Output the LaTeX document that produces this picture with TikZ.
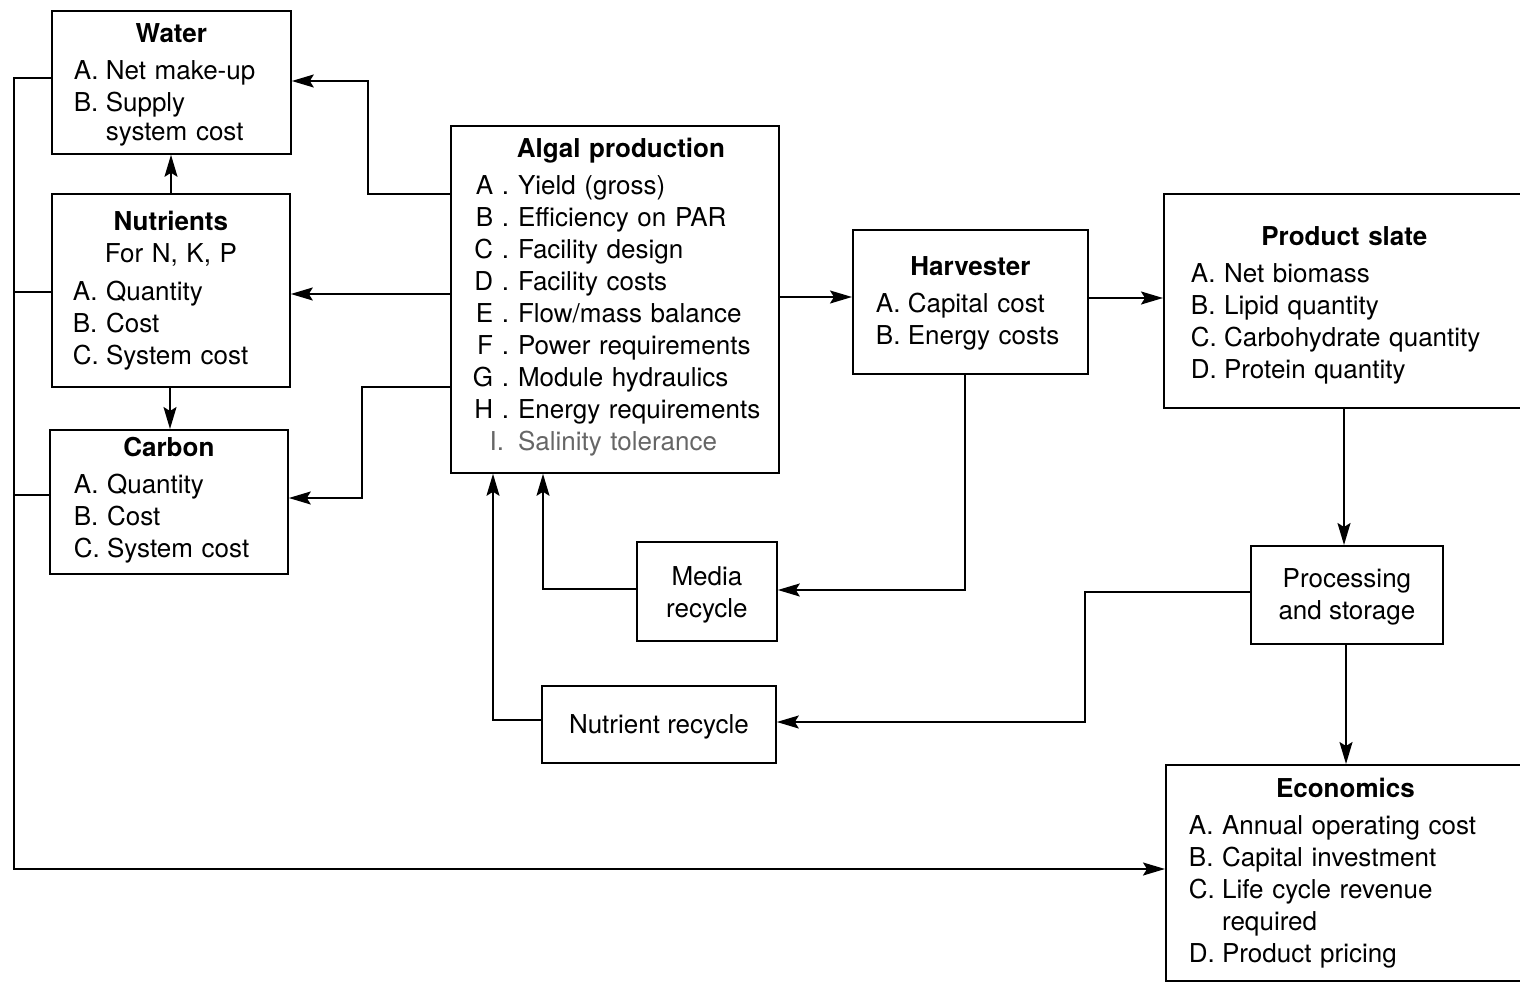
\documentclass[tikz,border=0pt]{standalone}
\usepackage{fontspec}
\setmainfont{TeX Gyre Heros}
\usetikzlibrary{arrows.meta}
% lettered list with hanging continuation lines
\newcommand{\boxlist}[1]{\begin{tabular}[t]{@{}l@{\hspace{7.2pt}}l@{}}#1\end{tabular}}
% centred bold heading; the optional strut height sets the top margin
\newcommand{\boxtitle}[2][18pt]{\makebox[\hsize]{\rule{0pt}{#1}\bfseries #2}}
\begin{document}
\begin{tikzpicture}[x=1pt, y=-1pt,
  every node/.style={font=\fontsize{26}{32}\selectfont},
  box/.style={draw, line width=1.8pt, anchor=north west, inner ysep=0pt},
  panel/.style={box, align=left},
  plain/.style={box, align=center, inner sep=0pt},
  wire/.style={line width=1.8pt},
  link/.style={wire, -{Stealth[length=22pt, width=13pt, inset=4pt]}}]
\useasboundingbox (0,0) rectangle (1520,987);

% ---- supply side ----
\node[panel, inner xsep=22pt, text width=195pt, minimum height=143pt] (water) at (51,10)
  {\boxtitle[28.7pt]{Water}\\[5pt]
   \boxlist{A. & Net make-up\\ B. & Supply\\[-3pt] & system cost}};

\node[panel, inner xsep=21pt, text width=196pt, minimum height=193pt] (nutrients) at (51,193)
  {\boxtitle[24.7pt]{Nutrients}\\
   \makebox[\hsize]{For N, K, P}\\[6pt]
   \boxlist{A. & Quantity\\ B. & Cost\\ C. & System cost}};

\node[panel, inner xsep=24pt, text width=190pt, minimum height=144pt] (carbon) at (49,429)
  {\boxtitle[20.7pt]{Carbon}\\[5pt]
   \boxlist{A. & Quantity\\ B. & Cost\\ C. & System cost}};

% ---- production ----
\node[panel, inner xsep=14pt, text width=300pt, minimum height=347pt] (algal) at (450,125)
  {\makebox[\hsize]{\hspace{12pt}\bfseries Algal production}\\[5pt]
   \hspace*{8pt}\begin{tabular}[t]{@{}r@{\hspace{9pt}}l@{}}
   A . & Yield (gross)\\
   B . & Efficiency on PAR\\
   C . & Facility design\\
   D . & Facility costs\\
   E . & Flow/mass balance\\
   F . & Power requirements\\
   G . & Module hydraulics\\
   H . & Energy requirements\\
   \color{black!60}I.\hspace{5pt} & \color{black!60}Salinity tolerance
   \end{tabular}};

\node[panel, inner xsep=23pt, text width=189pt, minimum height=144pt] (harvester) at (852,229)
  {\boxtitle[26.7pt]{Harvester}\\[5pt]
   \boxlist{A. & Capital cost\\ B. & Energy costs}};

\node[panel, inner xsep=27pt, text width=307pt, minimum height=214pt] (product) at (1163,193)
  {\boxtitle[32.7pt]{Product slate}\\[5pt]
   \boxlist{A. & Net biomass\\ B. & Lipid quantity\\ C. & Carbohydrate quantity\\ D. & Protein quantity}};

\node[plain, minimum width=140pt, minimum height=99pt] (media) at (636,541)
  {\rule{0pt}{26.7pt}Media\\recycle};
\node[plain, minimum width=234pt, minimum height=77pt] (nutrec) at (541,685)
  {\rule{0pt}{24.7pt}Nutrient recycle};
\node[plain, minimum width=192pt, minimum height=98pt] (processing) at (1250,545)
  {\rule{0pt}{22.7pt}Processing\\and storage};

\node[panel, inner xsep=23pt, text width=313pt, minimum height=216pt] (economics) at (1165,764)
  {\boxtitle[24.7pt]{Economics}\\[5pt]
   \boxlist{A. & Annual operating cost\\ B. & Capital investment\\ C. & Life cycle revenue\\ & required\\ D. & Product pricing}};

% ---- algal production to its inputs ----
\draw[link] (algal.west |- 0,194) -| (368,81) -- (water.east |- 0,81);
\draw[link] (algal.west |- 0,294) -- (nutrients.east |- 0,294);
\draw[link] (algal.west |- 0,387) -| (362,498) -- (carbon.east |- 0,498);
\draw[link] (nutrients.north -| 171,0) -- (water.south -| 171,0);
\draw[link] (nutrients.south -| 170,0) -- (carbon.north -| 170,0);

% ---- supply costs collected into economics ----
\draw[link] (water.west |- 0,78) -| (14,869) -- (economics.west |- 0,869);
\draw[wire] (nutrients.west |- 0,292) -- (14,292);
\draw[wire] (carbon.west |- 0,495) -- (14,495);

% ---- main product chain ----
\draw[link] (algal.east |- 0,297) -- (harvester.west |- 0,297);
\draw[link] (harvester.east |- 0,298) -- (product.west |- 0,298);
\draw[link] (product.south -| 1344,0) -- (processing.north -| 1344,0);
\draw[link] (processing.south -| 1346,0) -- (economics.north -| 1346,0);

% ---- recycle loops ----
\draw[link] (harvester.south -| 965,0) |- (media.east |- 0,590);
\draw[link] (media.west |- 0,589) -| (algal.south -| 543,0);
\draw[link] (processing.west |- 0,592) -| (1085,722) -- (nutrec.east |- 0,722);
\draw[link] (nutrec.west |- 0,720) -| (algal.south -| 493,0);
\end{tikzpicture}
\end{document}
